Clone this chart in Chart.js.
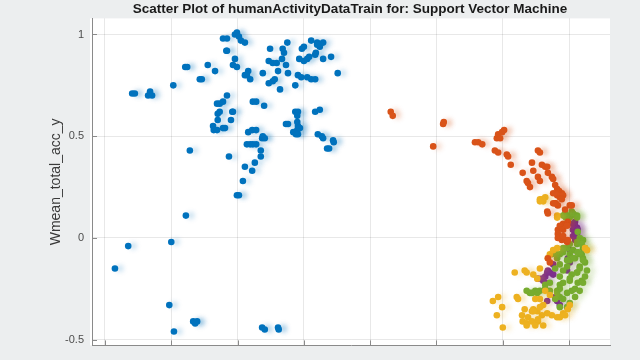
<!DOCTYPE html>
<html>
<head>
<meta charset="utf-8">
<script src="https://cdn.jsdelivr.net/npm/chart.js"></script>
<style>
  html, body { margin: 0; padding: 0; background: #eceeef; }
  #chart { display: block; }
</style>
</head>
<body>
<canvas id="chart" width="640" height="360"></canvas>
<script>
// tick positions
const xTicks = [0, 1, 2, 3, 4, 5, 6, 7];
const yTicks = [-0.5, 0, 0.5, 1];

const chartTitle = 'Scatter Plot of humanActivityDataTrain for: Support Vector Machine';

// class labels, in gscatter order
const classes = ['Dancing', 'Running', 'Sitting', 'Standing', 'Walking'];
const classColors = ['#0072BD', '#D95319', '#EDB120', '#7E2F8E', '#77AC30'];

// [x, Wmean_total_acc_y] per class
const dancing = [
  [0.41,0.71],[0.45,0.71],[0.65,0.70],[0.68,0.72],[0.71,0.70],
  [0.15,-0.15],[0.35,-0.04],[1.00,-0.02],[1.22,0.11],[1.28,0.43],[1.03,0.75],
  [1.21,0.84],[1.24,0.84],[1.43,0.78],[1.46,0.78],[1.55,0.85],[1.66,0.82],
  [0.97,-0.33],[1.33,-0.41],[1.39,-0.41],[1.36,-0.42],[1.04,-0.46],
  [2.08,0.28],[1.99,0.21],[2.02,0.21],[2.37,-0.44],[2.41,-0.45],[2.61,-0.44],[2.62,-0.45],
  [1.78,0.98],[1.84,0.98],[1.96,1.00],[1.99,1.01],[2.02,0.99],[2.05,0.97],[2.11,0.96],
  [1.83,0.92],[1.84,0.92],[2.49,0.93],[2.68,0.93],[2.70,0.91],[2.75,0.96],[2.97,0.93],[3.00,0.94],
  [3.11,0.97],[3.20,0.96],[3.24,0.94],[3.29,0.96],[3.17,0.90],[3.18,0.91],[3.20,0.95],
  [1.96,0.88],[1.93,0.85],[1.99,0.84],[2.16,0.82],[2.11,0.80],[2.14,0.80],[2.19,0.78],
  [2.38,0.81],[2.47,0.87],[2.53,0.86],[2.59,0.86],[2.67,0.88],[2.73,0.85],[2.61,0.82],[2.76,0.81],
  [2.93,0.88],[3.00,0.87],[3.05,0.88],[3.08,0.89],[3.29,0.88],[3.41,0.89],
  [2.91,0.80],[2.96,0.79],[3.05,0.79],[3.11,0.78],[3.17,0.78],[3.51,0.81],
  [2.47,0.76],[2.53,0.77],[2.56,0.78],[2.64,0.73],[2.87,0.75],
  [1.84,0.70],[1.69,0.66],[1.73,0.66],[1.78,0.67],[2.23,0.67],[2.28,0.67],[2.40,0.65],
  [1.70,0.61],[1.73,0.62],[1.92,0.62],[1.93,0.62],[1.70,0.58],[1.90,0.58],
  [1.63,0.55],[1.64,0.53],[1.69,0.53],[1.78,0.54],[1.81,0.54],[1.87,0.40],
  [2.16,0.52],[2.22,0.53],[2.28,0.53],[2.37,0.49],[2.38,0.50],[2.41,0.49],
  [2.14,0.46],[2.19,0.46],[2.23,0.46],[2.28,0.46],[2.35,0.43],[2.35,0.40],[2.26,0.37],[2.11,0.35],[2.22,0.33],
  [2.73,0.56],[2.76,0.56],[2.87,0.62],[2.91,0.62],[2.90,0.60],[2.90,0.57],[2.91,0.55],[2.90,0.53],
  [2.84,0.52],[2.88,0.51],[2.91,0.51],[2.94,0.54],[3.17,0.62],[3.24,0.63],
  [3.21,0.51],[3.27,0.50],[3.29,0.49],[3.44,0.48],[3.45,0.47],[3.35,0.44],[3.38,0.44]
];
const running = [
  [4.31,0.62],[4.34,0.60],[5.10,0.56],[5.11,0.57],[4.95,0.45],
  [5.58,0.47],[5.63,0.47],[5.69,0.46],[5.91,0.49],[5.93,0.51],[5.99,0.52],[6.02,0.53],[5.96,0.49],
  [5.88,0.43],[5.93,0.42],[6.06,0.41],[6.08,0.40],[6.12,0.36],
  [6.53,0.43],[6.56,0.42],[6.44,0.37],[6.59,0.36],[6.64,0.35],[6.67,0.35],
  [6.30,0.32],[6.46,0.33],[6.36,0.28],[6.38,0.27],[6.53,0.30],[6.56,0.28],[6.41,0.25],
  [6.68,0.32],[6.74,0.30],[6.76,0.29],[6.79,0.26],[6.82,0.24],[6.85,0.23],[6.89,0.22],
  [6.76,0.22],[6.82,0.21],[6.86,0.20],[6.91,0.21],[6.79,0.17],[6.83,0.16],[7.01,0.16],
  [6.67,0.13],[6.68,0.12],[6.94,0.14],[6.89,0.19],[6.80,0.17],[6.76,0.17],[7.04,0.16],
  [6.98,0.08],[6.91,0.07],[6.83,0.04],[6.86,0.06],[6.91,0.04],[6.83,0.02],[6.89,-0.01],
  [6.97,-0.02],[6.97,0.06],[6.83,0.00],[6.91,0.01],[6.98,-0.01],[6.68,-0.10],[6.71,-0.12]
];
const sitting = [
  [6.56,0.19],[6.61,0.18],[6.64,0.20],[6.59,0.19],[6.56,0.18],[6.82,0.11],[6.82,0.10],
  [6.18,-0.17],[6.33,-0.16],[6.36,-0.17],[6.46,-0.18],[6.52,-0.20],
  [5.85,-0.31],[5.93,-0.29],[5.99,-0.34],[5.91,-0.38],[6.00,-0.44],
  [6.21,-0.29],[6.23,-0.30],[6.29,-0.38],[6.30,-0.41],[6.36,-0.42],[6.38,-0.39],
  [6.46,-0.35],[6.52,-0.36],[6.59,-0.38],[6.67,-0.37],[6.74,-0.38],[6.82,-0.39],
  [6.91,-0.37],[6.98,-0.35],[7.01,-0.33],[6.56,-0.30],[6.49,-0.30],
  [6.71,-0.08],[6.68,-0.10],[6.76,-0.06],[6.82,-0.05],[7.24,-0.05],[7.27,-0.06],
  [6.56,-0.15],[6.61,-0.33],[6.44,-0.36],[6.53,-0.41],[6.36,-0.43],[6.33,-0.35],
  [6.44,-0.41],[6.61,-0.43],[6.53,-0.40],[6.49,-0.43],[6.86,-0.39],[6.94,-0.38],
  [6.46,-0.36],[6.64,-0.26],[6.71,-0.28],[6.56,-0.34]
];
const standing = [
  [7.09,0.08],[7.12,0.05],[7.06,0.04],[7.04,0.07],[7.09,0.06],[7.06,0.04],[7.12,0.02],
  [7.13,-0.01],[7.09,-0.01],[7.06,0.01],[7.13,0.04],[7.09,0.01],
  [6.68,-0.16],[6.71,-0.17],[6.59,-0.20],[6.61,-0.21],[6.53,-0.20],[6.76,-0.18],
  [6.97,-0.16],[6.82,-0.31],[6.86,-0.33],[6.79,-0.29],[6.67,-0.31],[6.64,-0.19],
  [7.01,-0.12],[7.01,-0.06],[6.98,-0.10],[6.76,-0.13],[6.67,-0.17],[6.64,-0.22]
];
const walking = [
  [6.94,0.12],[6.98,0.11],[7.04,0.13],[7.09,0.11],[7.01,0.10],[7.12,0.11],[6.91,0.11],
  [7.06,0.12],[7.12,0.10],[6.95,0.10],[7.13,0.03],[7.16,0.00],[7.21,-0.01],
  [7.16,-0.02],[7.21,-0.05],[7.12,-0.03],[7.06,-0.06],[7.01,-0.08],[7.13,-0.07],
  [7.19,-0.08],[7.21,-0.10],[7.24,-0.12],[7.16,-0.14],[7.09,-0.10],[7.01,-0.11],
  [6.97,-0.14],[6.91,-0.16],[6.86,-0.19],[6.86,-0.23],[6.82,-0.26],[6.71,-0.26],
  [6.64,-0.25],[6.56,-0.26],[6.49,-0.26],[6.41,-0.27],[6.36,-0.26],[6.86,-0.29],
  [6.91,-0.30],[6.97,-0.27],[7.04,-0.26],[7.09,-0.25],[7.13,-0.22],[7.19,-0.21],
  [7.12,-0.17],[7.04,-0.18],[7.01,-0.21],[6.82,-0.10],[6.86,-0.08],[6.91,-0.07],
  [6.97,-0.05],[6.74,-0.08],[6.82,-0.08],[6.91,-0.05],[7.01,-0.03],[7.12,-0.02],
  [7.19,-0.03],[7.24,-0.05],[7.16,-0.08],[7.06,-0.10],[6.97,-0.11],[6.86,-0.13],
  [6.79,-0.15],[7.16,-0.15],[7.12,-0.17],[7.01,-0.20],[6.91,-0.22],[6.86,-0.25],
  [6.82,-0.27],[6.79,-0.30],[6.86,-0.34],[6.97,-0.34],[7.01,-0.32],[7.09,-0.29],
  [7.16,-0.26],[7.21,-0.22],[7.24,-0.19],[7.27,-0.16],[7.21,-0.11],[7.13,-0.07],
  [6.44,-0.27],[6.52,-0.27],[6.64,-0.23],[6.71,-0.22]
];

// draw order: walking before standing so the purple patches show
const groups = [dancing, running, sitting, walking, standing];
const groupIdx = [0, 1, 2, 4, 3];

function hexToRgba(hex, a) {
    const n = parseInt(hex.slice(1), 16);
    return `rgba(${(n >> 16) & 255},${(n >> 8) & 255},${n & 255},${a})`;
}

const bgPlugin = {
    id: 'bg',
    beforeDraw(chart) {
        const { ctx, chartArea: a } = chart;
        ctx.save();
        ctx.fillStyle = '#eceeef';
        ctx.fillRect(0, 0, chart.width, chart.height);
        ctx.fillStyle = '#ffffff';
        ctx.fillRect(a.left - 2, a.top, a.right - a.left + 2, a.bottom - a.top);
        // title, centred like the MATLAB figure
        ctx.fillStyle = '#1a1a1a';
        ctx.font = 'bold 13.5px "Liberation Sans", Arial, sans-serif';
        ctx.textAlign = 'center';
        ctx.textBaseline = 'middle';
        ctx.fillText(chartTitle, 350, 9);
        ctx.restore();
    },
    beforeDatasetsDraw(chart) {
        // MATLAB style inward tick marks
        const { ctx, chartArea: a, scales } = chart;
        ctx.save();
        ctx.strokeStyle = '#8a8a8a';
        ctx.lineWidth = 1;
        ctx.beginPath();
        yTicks.forEach(v => {
            const y = Math.round(scales.y.getPixelForValue(v)) + 0.5;
            ctx.moveTo(a.left, y);
            ctx.lineTo(a.left + 5, y);
        });
        xTicks.forEach(v => {
            const x = Math.round(scales.x.getPixelForValue(v)) + 0.5;
            ctx.moveTo(x, a.bottom);
            ctx.lineTo(x, a.bottom - 5);
        });
        ctx.stroke();
        ctx.restore();
    },
    // smeared look of the points
    beforeDatasetDraw(chart, args) {
        const ctx = chart.ctx;
        ctx.save();
        ctx.shadowColor = hexToRgba(args.meta._dataset.borderColor, 0.25);
        ctx.shadowBlur = 5;
        ctx.shadowOffsetX = 5;
    },
    afterDatasetDraw(chart) {
        chart.ctx.restore();
    }
};

const ctx = document.getElementById('chart').getContext('2d');
new Chart(ctx, {
    type: 'scatter',
    data: {
        datasets: groups.map((pts, i) => ({
            label: classes[groupIdx[i]],
            data: pts.map(p => ({ x: p[0], y: p[1] })),
            backgroundColor: classColors[groupIdx[i]],
            borderColor: classColors[groupIdx[i]],
            pointRadius: 3.3,
            borderWidth: 0
        }))
    },
    options: {
        responsive: false,
        animation: false,
        layout: { padding: { left: 0, right: 30, top: 18.4, bottom: 0 } },
        plugins: {
            legend: { display: false },
            tooltip: { enabled: false },
            title: { display: false }
        },
        scales: {
            x: {
                type: 'linear',
                min: -0.196,
                max: 7.617,
                afterBuildTicks: s => { s.ticks = xTicks.map(v => ({ value: v })); },
                afterFit: s => { s.height = 2; },
                ticks: { display: false },
                grid: { color: 'rgba(0,0,0,0.09)', drawTicks: false },
                border: { display: true, color: '#8a8a8a' }
            },
            y: {
                min: -0.528,
                max: 1.079,
                afterBuildTicks: s => { s.ticks = yTicks.map(v => ({ value: v })); },
                afterFit: s => { s.width = 92; },
                ticks: {
                    padding: 8,
                    color: '#4d4d4d',
                    font: { family: 'Liberation Sans, Arial, sans-serif', size: 11 },
                    callback: v => String(v)
                },
                grid: { color: 'rgba(0,0,0,0.09)', drawTicks: false },
                border: { display: true, color: '#8a8a8a' },
                title: {
                    display: true,
                    text: 'Wmean_total_acc_y',
                    color: '#3a3a3a',
                    font: { family: 'Liberation Sans, Arial, sans-serif', size: 14 },
                    padding: { top: 48, bottom: 0 }
                }
            }
        }
    },
    plugins: [bgPlugin]
});
</script>
</body>
</html>
